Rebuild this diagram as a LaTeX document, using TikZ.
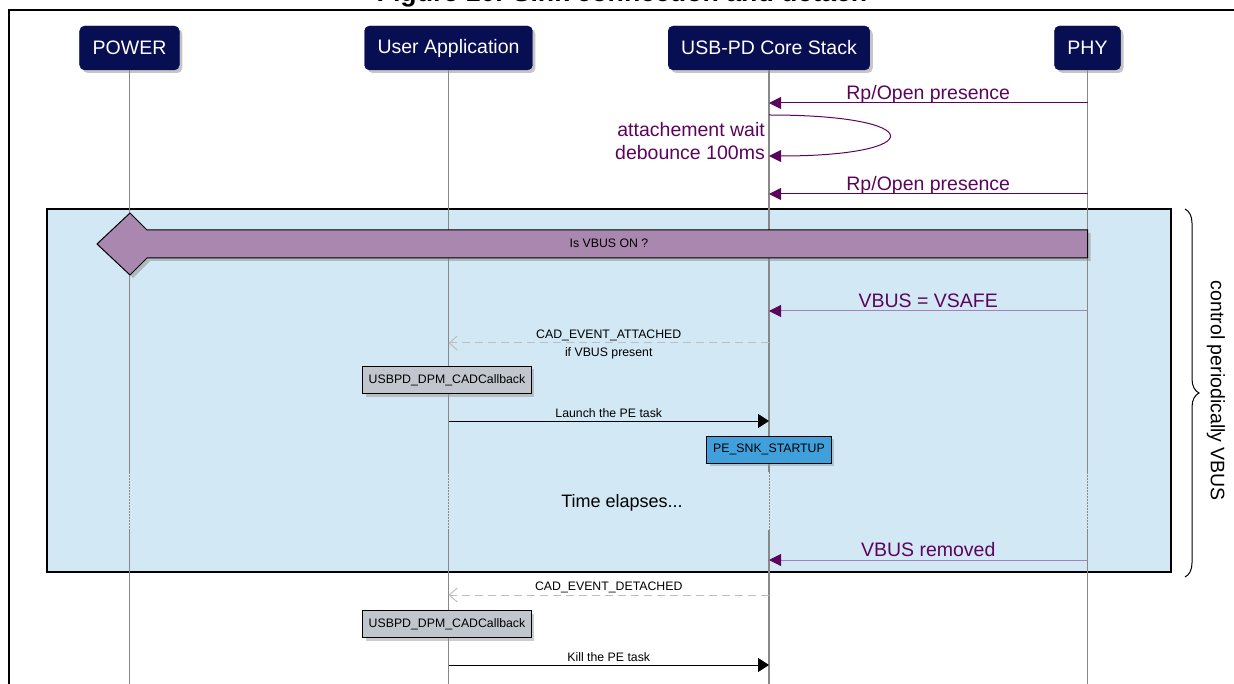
\documentclass[tikz,border=0pt]{standalone}
\usepackage{fontspec}
\setmainfont{Liberation Sans}
\usepackage{tikz}
\usetikzlibrary{arrows.meta,shadows,decorations.pathreplacing}
\definecolor{headnavy}{RGB}{8,14,82}
\definecolor{lifegray}{RGB}{136,136,136}
\definecolor{msgpurple}{RGB}{92,4,92}
\definecolor{msglight}{RGB}{165,128,185}
\definecolor{loopblue}{RGB}{210,232,245}
\definecolor{barmauve}{RGB}{169,135,174}
\definecolor{cbgray}{RGB}{193,198,206}
\definecolor{snkblue}{RGB}{64,160,220}
\definecolor{dashgray}{RGB}{190,190,190}
\newcommand{\hdfont}{\fontsize{19.5}{22.5}\selectfont}
\newcommand{\smfont}{\fontsize{12.3}{14}\selectfont}
\tikzset{
  head/.style={draw=headnavy, fill=headnavy, text=white, rounded corners=5pt, minimum height=44pt, inner xsep=13pt, font=\hdfont, drop shadow={shadow xshift=3pt, shadow yshift=-3pt, fill=black!45}},
  life/.style={draw=lifegray, line width=1.3pt},
  msg/.style={draw=msgpurple, line width=1pt, -{Triangle[length=12pt,width=12pt,color=msgpurple,fill=msgpurple]}, text=msgpurple, font=\hdfont},
  msglite/.style={msg, draw=msglight},
  call/.style={draw=black, line width=1pt, -{Triangle[length=11pt,width=14pt]}, font=\smfont},
  reply/.style={draw=dashgray, line width=1pt, dash pattern=on 8pt off 5pt, -{Straight Barb[length=8pt,width=14pt]}, font=\smfont},
  cbbox/.style={draw=black, fill=cbgray, line width=1pt, minimum height=27pt, inner xsep=6pt, font=\smfont, drop shadow={shadow xshift=3pt, shadow yshift=-3pt, fill=black!40}},
  lbl/.style={inner sep=0pt},
  plbl/.style={inner sep=0pt, text depth=4pt, above=-1pt}
}
\begin{document}
\begin{tikzpicture}[x=1pt,y=-1pt]
\useasboundingbox (0,0) rectangle (1234,684);
\node[anchor=base, font=\fontsize{26.7}{30}\selectfont\bfseries] (title) at (622,2) {Figure 10. Sink connection and detach};
\draw[line width=2pt] (9,684) -- (9,10) -- (1234,10);

\node[draw=black, line width=1.3pt, fill=loopblue, minimum width=1124pt, minimum height=363pt, inner sep=0pt] (loop) at (609,390.5) {};

\node[head] (power) at (129.5,48) {POWER};
\node[head] (app) at (448.5,48) {User Application};
\node[head] (core) at (769,48) {USB-PD Core Stack};
\node[head] (phy) at (1087.5,48) {PHY};

\coordinate (gapA) at (0,472);
\coordinate (gapB) at (0,530);
\coordinate (bottom) at (0,684);
\foreach \n in {power,app,core,phy} {
  \draw[life] (\n.south) -- (\n |- gapA);
  \draw[life, line width=1pt, dash pattern=on 1.5pt off 1.5pt] (\n |- gapA) -- (\n |- gapB);
  \draw[life] (\n |- gapB) -- (\n |- bottom);
}

\coordinate (r1) at (0,103);
\coordinate (r2) at (0,194);
\coordinate (r3) at (0,311);
\coordinate (r4) at (0,343);
\coordinate (r5) at (0,421);
\coordinate (r6) at (0,560);
\coordinate (r7) at (0,595);
\coordinate (r8) at (0,665);
\coordinate (w1) at (0,115);
\coordinate (w2) at (0,156);

\draw[msg] (phy |- r1) -- node[plbl] (rp1) {Rp/Open presence} (core |- r1);
\draw[msg] (core |- w1) .. controls +(160,0) and +(160,0) .. (core |- w2);
\node[anchor=east, align=right, text=msgpurple, font=\hdfont, inner sep=0pt] (wait) at (765,141) {attachement wait\\debounce 100ms};
\draw[msg] (phy |- r2) -- node[plbl] (rp2) {Rp/Open presence} (core |- r2);

\draw[line width=1pt, fill=barmauve, drop shadow={shadow xshift=3pt, shadow yshift=-3pt, fill=black!45}] (97,244) -- (130,213) -- (147,230) -- (phy |- 0,230) -- (phy |- 0,258) -- (147,258) -- (130,275) -- cycle;
\node[font=\smfont] (isvbus) at (609,243) {Is VBUS ON ?};

\draw[msglite] (phy |- r3) -- node[plbl] (vsafe) {VBUS = VSAFE} (core |- r3);
\draw[reply] (core |- r4) -- node[lbl, above=2pt] (att) {CAD\_EVENT\_ATTACHED} node[lbl, below=4pt] (ifv) {if VBUS present} (app |- r4);
\node[cbbox] (cb1) at (447,380) {USBPD\_DPM\_CADCallback};
\draw[call] (app |- r5) -- node[lbl, above=3pt] (launch) {Launch the PE task} (core |- r5);
\node[cbbox, fill=snkblue, inner xsep=6.6pt] (snk) at (769,449.5) {PE\_SNK\_STARTUP};
\node[font=\fontsize{18}{20}\selectfont] (elapse) at (622,503) {Time elapses...};
\draw[msglite] (phy |- r6) -- node[plbl] (vrem) {VBUS removed} (core |- r6);

\draw[reply] (core |- r7) -- node[lbl, above=2pt] (det) {CAD\_EVENT\_DETACHED} (app |- r7);
\node[cbbox] (cb2) at (447,624) {USBPD\_DPM\_CADCallback};
\draw[call] (app |- r8) -- node[lbl, above=3pt] (kill) {Kill the PE task} (core |- r8);

\draw[line width=1pt, decorate, decoration={brace, amplitude=14pt}] (1185,209) -- (1185,577);
\node[rotate=-90, font=\hdfont] (ctrl) at (1216,391) {control periodically VBUS};
\end{tikzpicture}
\end{document}
